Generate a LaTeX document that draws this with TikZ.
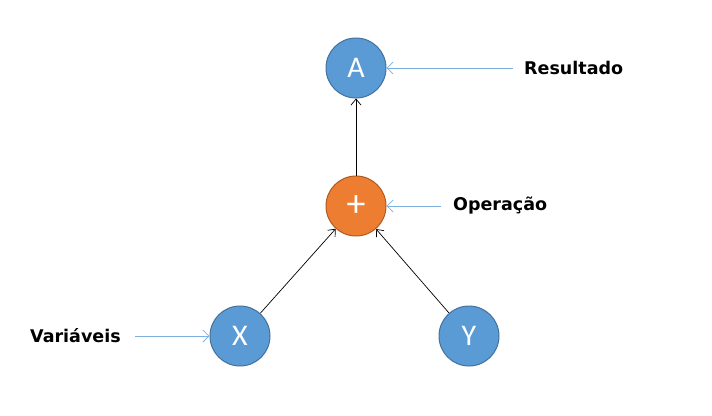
\documentclass[tikz,border=0pt]{standalone}
\usepackage{fontspec}
\setmainfont{DejaVu Sans}
\newfontfamily\nodefont{Carlito}
\usetikzlibrary{arrows.meta}
\definecolor{nblue}{HTML}{5B9BD5}
\definecolor{nbluedark}{HTML}{41719C}
\definecolor{norange}{HTML}{ED7D31}
\definecolor{norangedark}{HTML}{AE5A21}
\definecolor{lblue}{HTML}{7FB0E0}
\begin{document}
\begin{tikzpicture}[x=1pt,y=-1pt,
  vnode/.style={circle,minimum size=60pt,inner sep=0pt,fill=nblue,draw=nbluedark,line width=1pt,text=white,font=\nodefont\fontsize{30}{32}\selectfont},
  onode/.style={vnode,fill=norange,draw=norangedark,font=\nodefont\fontsize{38}{40}\selectfont},
  lbl/.style={font=\bfseries\fontsize{17.5}{20}\selectfont,inner sep=0pt},
  conn/.style={-{Straight Barb[length=6pt,width=10pt]},line width=0.7pt,black},
  pointer/.style={-{Straight Barb[length=6pt,width=12pt]},line width=0.8pt,lblue}]
\useasboundingbox (0,0) rectangle (712,415);
\node[vnode] (A) at (356,68) {A};
\node[onode] (P) at (356,206) {+};
\node[vnode] (X) at (240,336) {X};
\node[vnode] (Y) at (469,336) {Y};
\draw[conn] (P) -- (A);
\draw[conn] (X) -- (P);
\draw[conn] (Y) -- (P);
\node[lbl,anchor=west] (R) at (524,68) {Resultado};
\node[lbl,anchor=west] (O) at (453,206) {Operação};
\node[lbl,anchor=west] (V) at (30,336) {Variáveis};
\coordinate (r0) at (513,68);
\coordinate (o0) at (441,206);
\coordinate (v0) at (135,336);
\draw[pointer] (r0) -- (A);
\draw[pointer] (o0) -- (P);
\draw[pointer] (v0) -- (X);
\end{tikzpicture}
\end{document}
